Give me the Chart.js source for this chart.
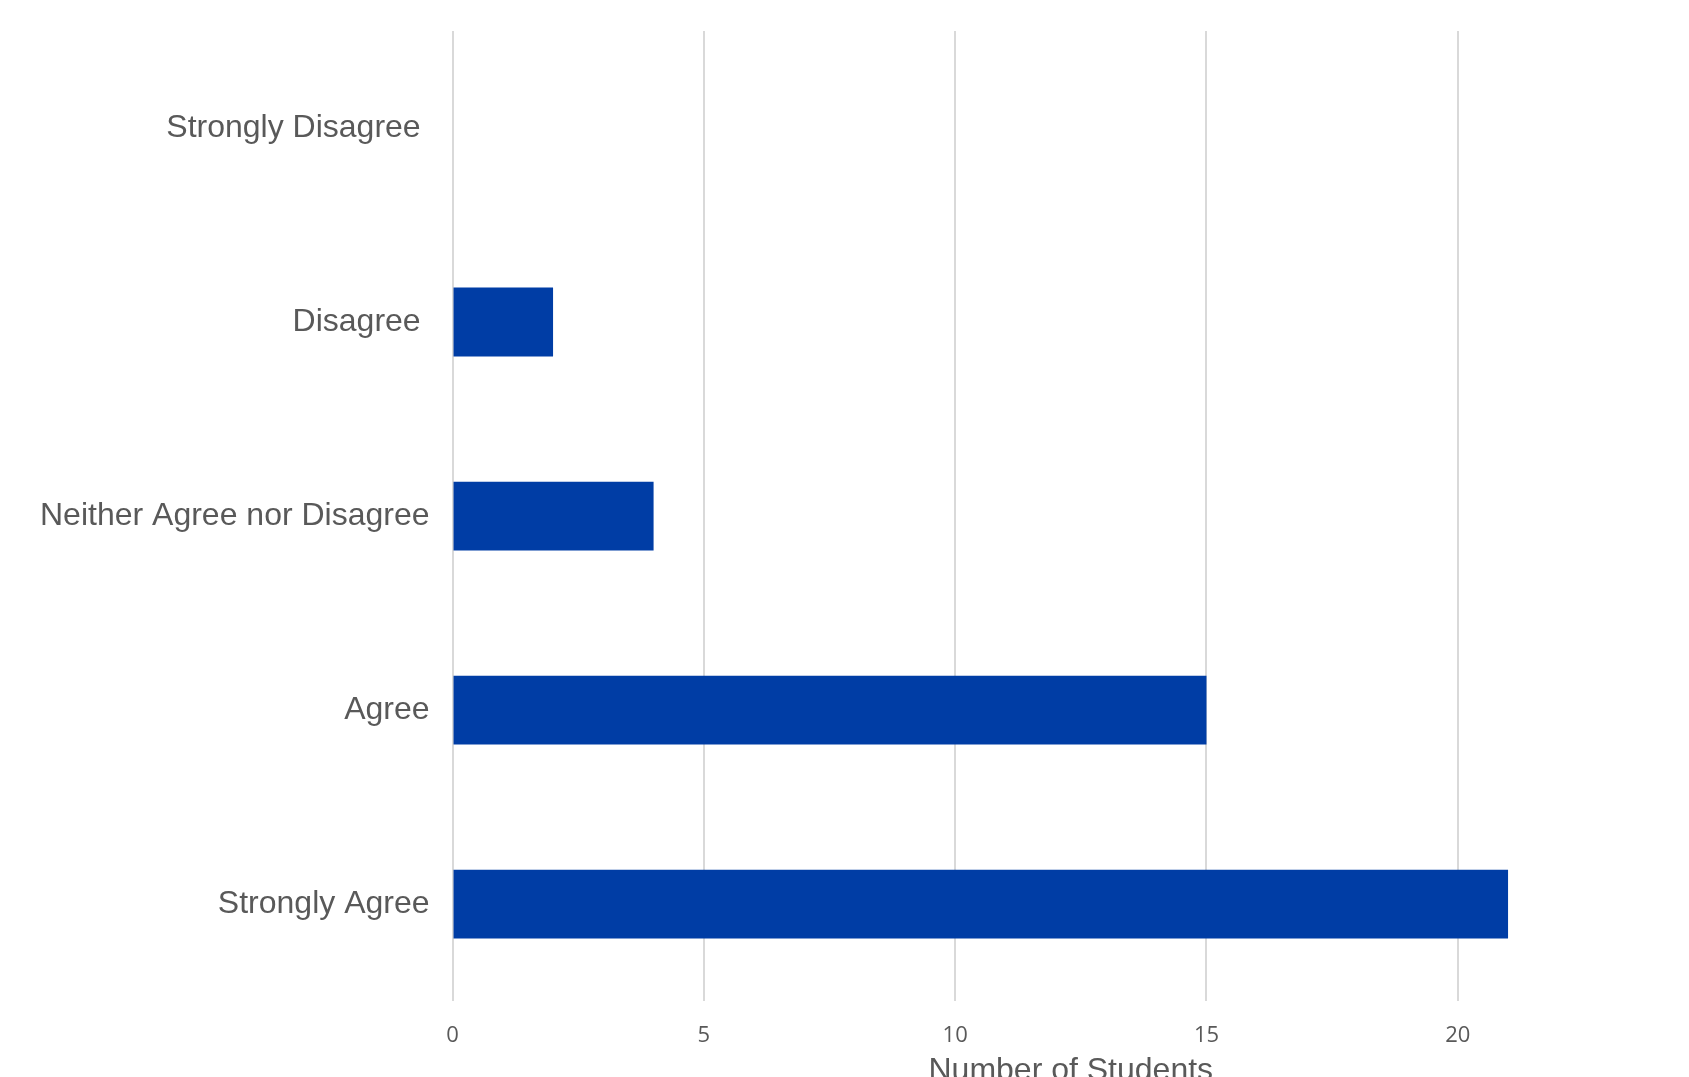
<!DOCTYPE html>
<html>
<head>
<meta charset="utf-8">
<script src="https://cdn.jsdelivr.net/npm/chart.js@4"></script>
<style>
  html, body { margin: 0; padding: 0; background: #fff; overflow: hidden; }
  #wrap { position: relative; width: 1689px; height: 1101px; }
</style>
</head>
<body>
<div id="wrap"><canvas id="chartOne"></canvas></div>
<script>
// survey answers, top to bottom as in the picture
let categories = ['Strongly Disagree ', 'Disagree ', 'Neither Agree nor Disagree', 'Agree', 'Strongly Agree'];
let students = [0, 2, 4, 15, 21];
let xTicks = [0, 5, 10, 15, 20];

var ctx = document.getElementById('chartOne').getContext('2d');
var chartOne = new Chart(ctx, {
    type: 'bar',
    data: {
        labels: categories,
        datasets: [{
            label: 'Number of Students',
            backgroundColor: '#003da5',
            borderWidth: 0,
            barPercentage: 0.355,
            categoryPercentage: 1,
            data: students
        }]
    },
    options: {
        indexAxis: 'y',
        responsive: true,
        maintainAspectRatio: false,
        animation: false,
        layout: {
            padding: { top: 31, left: 25, right: 0, bottom: 0 }
        },
        plugins: {
            legend: { display: false },
            tooltip: { enabled: false }
        },
        scales: {
            x: {
                min: 0,
                max: 24.6,
                afterBuildTicks: function(axis) {
                    axis.ticks = xTicks.map(v => ({ value: v }));
                },
                ticks: {
                    padding: 21,
                    color: '#595959',
                    font: { family: 'Open Sans', size: 22 }
                },
                grid: {
                    color: '#d9d9d9',
                    lineWidth: 2,
                    drawTicks: false
                },
                border: { display: false },
                title: {
                    display: true,
                    text: 'Number of Students',
                    color: '#595959',
                    font: { family: 'Liberation Sans', size: 32 },
                    padding: { top: -18, bottom: 11 }
                }
            },
            y: {
                grid: { display: false },
                border: { display: false },
                ticks: {
                    padding: 15,
                    color: '#595959',
                    font: { family: 'Liberation Sans', size: 32, lineHeight: 1 }
                }
            }
        }
    }
});
</script>
</body>
</html>
